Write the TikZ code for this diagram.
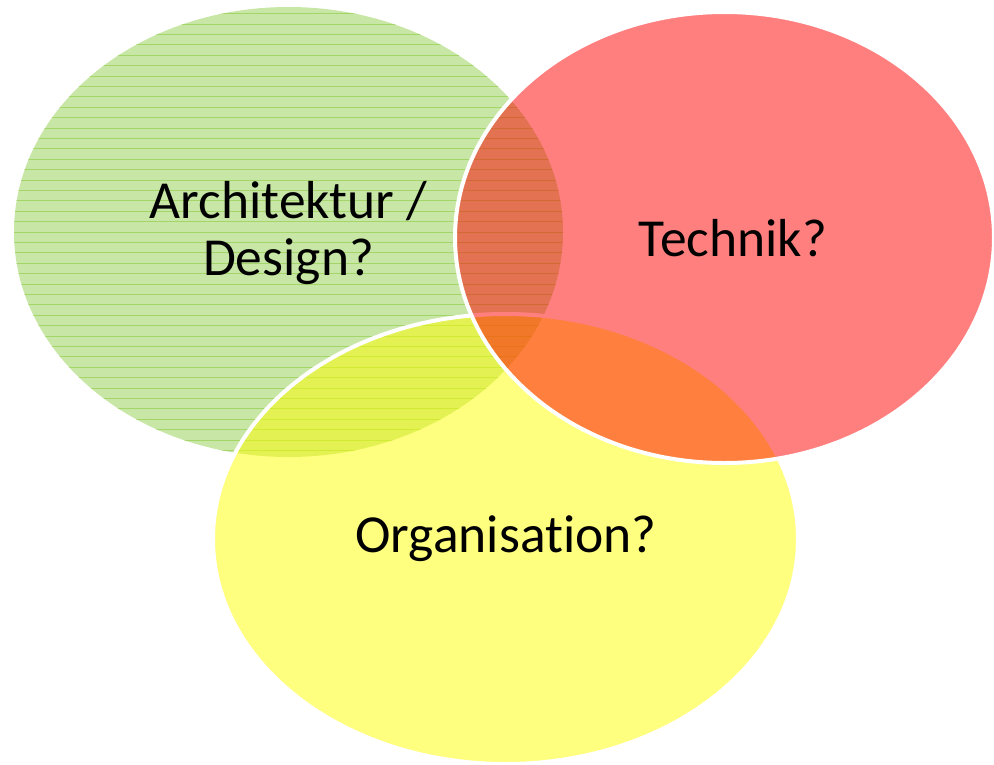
\documentclass[tikz,border=0pt]{standalone}
\usepackage{fontspec}
\setmainfont{Carlito}[Ligatures=CommonOff]
\usetikzlibrary{shapes.geometric}
\definecolor{grfill}{RGB}{200,230,166}
\definecolor{grline}{RGB}{163,213,105}
\definecolor{yl}{RGB}{255,255,0}
\definecolor{rd}{RGB}{255,0,0}
\tikzset{
  blob/.style={ellipse, inner sep=0pt, align=center, text opacity=1,
    font=\fontsize{53.5}{57}\selectfont},
  lbl/.style={inner sep=0pt, align=center, font=\fontsize{53.5}{57}\selectfont},
}
\begin{document}
\begin{tikzpicture}[x=1pt,y=-1pt]
\useasboundingbox (0,0) rectangle (994,764);
% green
\node[blob, fill=grfill, minimum width=549pt, minimum height=450pt] (arch) at (288.5,232) {};
\begin{scope}
  \clip (288.5,232) ellipse [x radius=274.5, y radius=225];
  \foreach \k in {0,...,44} {
    \draw[grline, line width=1pt] (0,{13.6+10.4*\k}) -- (994,{13.6+10.4*\k});
  }
\end{scope}
\node[lbl] (archtext) at (288.5,233) {Architektur /\\Design?};
% yellow
\node[blob, fill=yl, fill opacity=0.5, draw=white, line width=4pt,
  minimum width=585pt, minimum height=450pt] (org) at (505.5,539) {};
\node[lbl] (orgtext) at (506,539) {Organisation?};
% red
\node[blob, fill=rd, fill opacity=0.5, draw=white, line width=4pt,
  minimum width=539pt, minimum height=451pt] (tech) at (724.5,237.5) {};
\node[lbl] (techtext) at (733,238) {Technik?};
\end{tikzpicture}
\end{document}
